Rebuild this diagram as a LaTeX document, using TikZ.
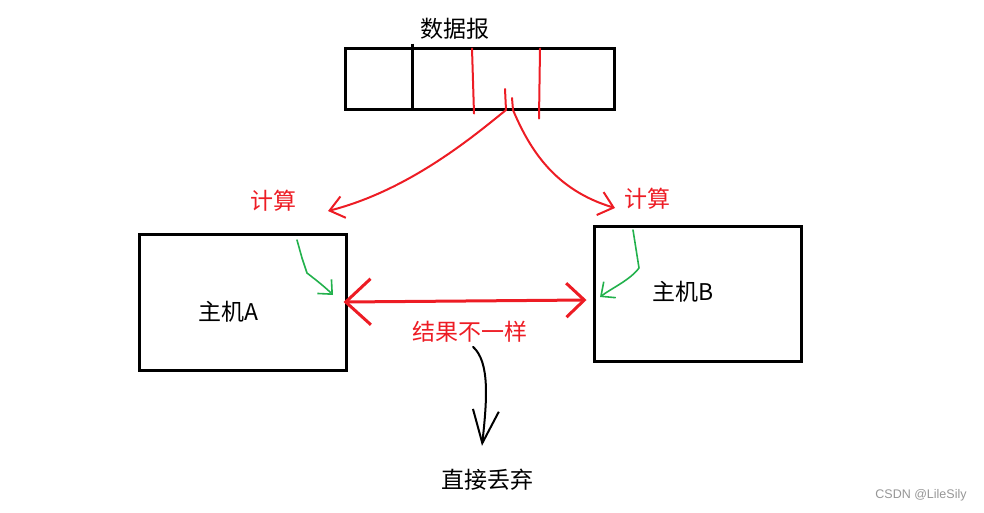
\documentclass[tikz,border=0pt]{standalone}
\usepackage{fontspec}
\setmainfont{Noto Sans CJK SC}
\newfontfamily\markfont{Liberation Sans}
\usepackage{tikz}
\usetikzlibrary{positioning, calc, arrows.meta}
\definecolor{paint_red}{RGB}{237,28,36}
\definecolor{paint_green}{RGB}{34,177,76}
\definecolor{mark_gray}{RGB}{150,150,150}
\tikzstyle{box} = [
    rectangle, draw=black, line width=3pt, fill=none, inner sep=0pt,
]
\tikzstyle{word} = [inner sep=0pt, text=black, font=\fontsize{23}{23}\selectfont]
\tikzstyle{redpen} = [paint_red, line width=2pt, line cap=round, line join=round]
\tikzstyle{greenpen} = [paint_green, line width=1.6pt, line cap=round, line join=round]
\tikzstyle{blackpen} = [black, line width=2pt, line cap=round, line join=round]

\begin{document}
\begin{tikzpicture}[x=1pt, y=-1pt]
    \useasboundingbox (0,0) rectangle (984,512);

    % datagram and hosts
    \node[box, minimum width=269pt, minimum height=61pt] (datagram) at (479.5,78.5) {};
    \node[word] (datagram_text) [above=7pt of datagram.north, xshift=-25pt] {数据报};
    \node[box, minimum width=207pt, minimum height=136pt] (hostA) at (242.5,302) {};
    \node[box, minimum width=207pt, minimum height=135pt] (hostB) at (697.5,293.5) {};
    \node[word] (hostA_text) at (228,312) {主机A};
    \node[word] (hostB_text) at (683,292) {主机B};

    % labels
    \node[word, text=paint_red] (calcA_text) at (273,201) {计算};
    \node[word, text=paint_red] (calcB_text) at (647,199) {计算};
    \node[word, text=paint_red] (differ_text) at (470,332) {结果不一样};
    \node[word] (drop_text) [below=126pt of differ_text, xshift=17pt] {直接丢弃};
    \node[font=\markfont\fontsize{12.5}{12.5}\selectfont, text=mark_gray, inner sep=0pt] (csdn_mark) at (921,495) {CSDN @LileSily};

    % fields of the datagram
    \draw[black, line width=3pt] ([xshift=-67.5pt, yshift=3pt]datagram.north) -- ([xshift=-67.5pt]datagram.south);
    \draw[redpen] ([xshift=-7.5pt, yshift=-2pt]datagram.north) -- ([xshift=-5.5pt, yshift=-3pt]datagram.south);
    \draw[redpen] ([xshift=60.5pt, yshift=-2pt]datagram.north) -- ([xshift=59.5pt, yshift=-8pt]datagram.south);

    % arrows from datagram to hosts
    \coordinate (split_left) at (505,89);
    \coordinate (split_right) at (512,98);
    \coordinate (calcA_tip) at (328,211);
    \coordinate (calcB_tip) at (615,208);
    \draw[redpen, -{Straight Barb[length=14pt, width=22pt]}] (split_left) -- (506,110) .. controls (475,135) and (410,190) .. (calcA_tip);
    \draw[redpen, -{Straight Barb[length=14pt, width=24pt]}] (split_right) -- (513,110) .. controls (530,150) and (555,190) .. (calcB_tip);

    % computing inside the hosts
    \coordinate (greenA_start) at (297,240);
    \coordinate (greenA_tip) at (333,295);
    \draw[greenpen, -{Straight Barb[length=11pt, width=20pt]}] (greenA_start) -- (302,258) -- (307,273) .. controls (316,280) and (325,287) .. (greenA_tip);
    \coordinate (greenB_start) at (633,230);
    \coordinate (greenB_tip) at (600,297);
    \draw[greenpen, -{Straight Barb[length=11pt, width=20pt]}] (greenB_start) -- (639,268) .. controls (630,280) and (612,288) .. (greenB_tip);

    % comparing the results
    \draw[redpen, line width=3pt, {Straight Barb[length=25pt, width=46pt]}-{Straight Barb[length=18pt, width=34pt]}] ([xshift=-4pt]hostA.east) -- ([xshift=-6pt, yshift=-6.5pt]hostB.west);

    \coordinate[below=4pt of differ_text.south, xshift=3pt] (drop_start);
    \coordinate[above=23pt of drop_text.north, xshift=-5pt] (drop_tip);
    \draw[blackpen, -{Straight Barb[length=33pt, width=26pt]}] (drop_start) .. controls (490,362) and (487,400) .. (drop_tip);
\end{tikzpicture}
\end{document}
